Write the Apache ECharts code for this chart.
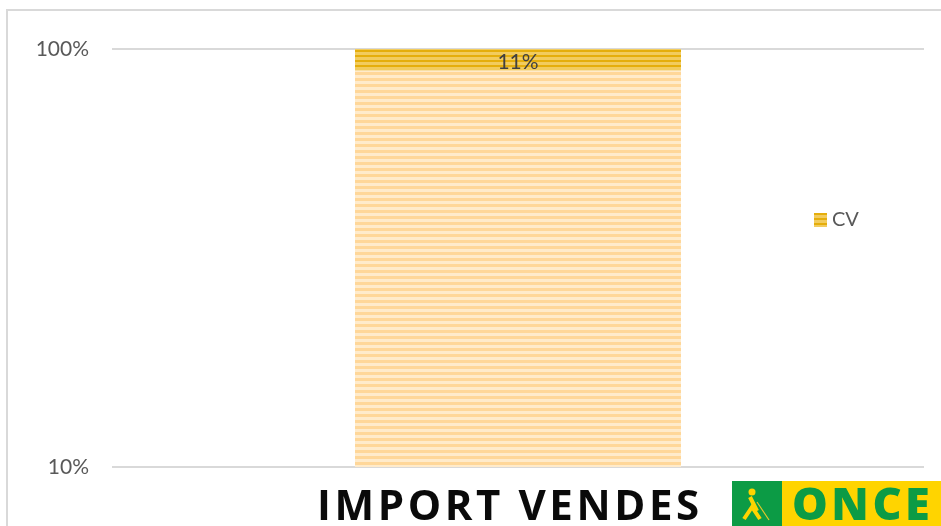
<!DOCTYPE html>
<html><head><meta charset="utf-8">
<style>html,body{margin:0;padding:0;background:#fff}#c{width:941px;height:526px}</style>
<script src="https://cdn.jsdelivr.net/npm/echarts@6/dist/echarts.min.js"></script>
</head><body><div id="c"></div>
<script>
const categories = ['IMPORT VENDES'];
const seriesName = 'CV';
const cvShare = [11];
const restShare = [89];
const tickLabels = [10, 100];
const logoWord = 'ONCE';
const spacedTexts = {'IMPORT VENDES': '3.6px', 'ONCE': '3.5px'};

// The library has no letter-spacing option: apply it at draw time, keeping each string whole.
const baseFillText = CanvasRenderingContext2D.prototype.fillText;
CanvasRenderingContext2D.prototype.fillText = function (t, x, y, w) {
  const s = spacedTexts[t];
  if (s) this.letterSpacing = s;
  if (w === undefined) baseFillText.call(this, t, x, y); else baseFillText.call(this, t, x, y, w);
  if (s) this.letterSpacing = '0px';
};

function stripes(period, a, aH, b) {
  const cv = document.createElement('canvas');
  cv.width = 4; cv.height = period;
  const g = cv.getContext('2d');
  g.fillStyle = b; g.fillRect(0, 0, 4, period);
  g.fillStyle = a; g.fillRect(0, 0, 4, aH);
  return {image: cv, repeat: 'repeat'};
}
const chart = echarts.init(document.getElementById('c'), null, {renderer: 'canvas'});
const cvFill = stripes(5, '#E5AE0C', 2, '#F2CC5E');
chart.setOption({
  animation: false,
  backgroundColor: '#fff',
  grid: {left: 112, right: 17, top: 49, bottom: 59},
  legend: {
    data: [{name: seriesName, itemStyle: {color: cvFill}}],
    left: 809, top: 205, orient: 'vertical', itemWidth: 13, itemHeight: 14, itemGap: 0,
    icon: 'rect',
    textStyle: {fontFamily: 'Lato', fontSize: 20, color: '#595959', padding: [0, 0, 0, 0]}
  },
  xAxis: {
    type: 'category', data: categories,
    axisLine: {show: false}, axisTick: {show: false},
    axisLabel: {show: false}
  },
  yAxis: {
    type: 'log', logBase: 10, min: 10, max: 100,
    axisLine: {show: false}, axisTick: {show: false},
    splitLine: {show: true, lineStyle: {color: '#D9D9D9', width: 2}},
    minorSplitLine: {show: false},
    axisLabel: {fontFamily: 'Lato', fontSize: 21, color: '#595959', margin: 23,
      formatter: v => tickLabels.includes(Math.round(v)) ? Math.round(v) + '%' : ''}
  },
  series: [
    {name: 'rest', type: 'bar', stack: 's', barWidth: 326, data: restShare,
     itemStyle: {color: stripes(6, '#FFD799', 3, '#FFEBCB')}, silent: true},
    {name: seriesName, type: 'bar', stack: 's', barWidth: 326, data: cvShare,
     itemStyle: {color: cvFill},
     label: {show: true, position: 'inside', offset: [0, 3], formatter: p => p.value + '%',
       fontFamily: 'Lato', fontSize: 21, color: '#404040'}}
  ],
  graphic: [
    {type: 'rect', silent: true, shape: {x: 7, y: 10, width: 960, height: 540},
     style: {fill: 'none', stroke: '#D9D9D9', lineWidth: 2}},
    {type: 'text', left: 317, top: 487, style: {text: categories[0],
      font: 'bold 42px "Open Sans"', fill: '#0a0a0a'}},
    {type: 'rect', shape: {x: 732, y: 481, width: 50, height: 45}, style: {fill: '#0C9B45'}},
    {type: 'rect', shape: {x: 782, y: 481, width: 159, height: 45}, style: {fill: '#FFD400'}},
    {type: 'circle', shape: {cx: 752, cy: 492, r: 3.5}, style: {fill: '#FFD400'}},
    {type: 'polyline', shape: {points: [[750,497],[757,511]]}, style: {stroke: '#FFD400', fill: 'none', lineWidth: 4}},
    {type: 'polyline', shape: {points: [[744,519],[752,507],[760,519]]}, style: {stroke: '#FFD400', fill: 'none', lineWidth: 4}},
    {type: 'line', shape: {x1: 757, y1: 502, x2: 769, y2: 520}, style: {stroke: '#E3C92A', lineWidth: 1.2}},
    {type: 'text', left: 792, top: 485, style: {text: logoWord,
      font: '900 45px "Open Sans"', fill: '#0C9B45'}}
  ]
});
</script></body></html>
